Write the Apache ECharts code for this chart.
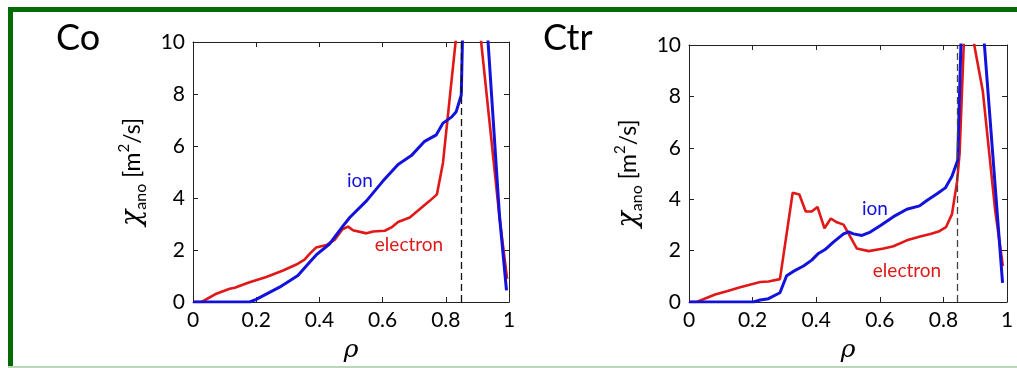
<!DOCTYPE html>
<html>
<head>
<meta charset="utf-8">
<script src="https://cdn.jsdelivr.net/npm/echarts@6/dist/echarts.min.js"></script>
<style>html,body{margin:0;padding:0;background:#fff}#c{width:1017px;height:368px}</style>
</head>
<body>
<div id="c"></div>
<script>
// ---- data (rho, chi_ano [m^2/s]) ----
var panelTitles = ['Co', 'Ctr'];
var xTicks = [0, 0.2, 0.4, 0.6, 0.8, 1];
var yTicks = [0, 2, 4, 6, 8, 10];
var coIon = [[0,0],[0.18,0],[0.2,0.1],[0.274,0.57],[0.332,1.02],[0.369,1.53],[0.39,1.81],[0.432,2.23],[0.475,2.93],[0.496,3.25],[0.549,3.89],[0.601,4.65],[0.649,5.29],[0.691,5.63],[0.733,6.18],[0.77,6.43],[0.791,6.88],[0.818,7.11],[0.833,7.32],[0.849,7.96],[0.856,12],[0.87,20],[0.9,18],[0.93,10.7],[0.97,3.3],[0.992,0.45]];
var coElectron = [[0,0],[0.027,0],[0.074,0.32],[0.116,0.51],[0.132,0.55],[0.179,0.76],[0.232,0.96],[0.285,1.21],[0.327,1.44],[0.353,1.63],[0.369,1.85],[0.39,2.10],[0.422,2.19],[0.448,2.39],[0.473,2.80],[0.491,2.90],[0.506,2.76],[0.549,2.64],[0.57,2.71],[0.607,2.74],[0.628,2.87],[0.649,3.08],[0.686,3.25],[0.717,3.57],[0.749,3.89],[0.772,4.14],[0.791,5.35],[0.835,10.47],[0.87,16],[0.9,13],[0.905,10.8],[0.97,3.25],[0.994,0.89]];
var ctrIon = [[0,0],[0.203,0],[0.224,0.08],[0.25,0.13],[0.286,0.36],[0.307,1.02],[0.328,1.19],[0.36,1.40],[0.386,1.63],[0.407,1.89],[0.428,2.04],[0.454,2.33],[0.486,2.65],[0.502,2.73],[0.517,2.65],[0.544,2.59],[0.57,2.72],[0.601,2.97],[0.643,3.32],[0.685,3.61],[0.725,3.74],[0.748,3.95],[0.78,4.21],[0.806,4.44],[0.827,4.89],[0.845,5.52],[0.86,12.24],[0.9,18],[0.925,10.65],[0.986,0.74]];
var ctrElectron = [[0,0],[0.024,0],[0.082,0.29],[0.119,0.42],[0.161,0.57],[0.203,0.71],[0.224,0.78],[0.25,0.80],[0.286,0.89],[0.326,4.25],[0.347,4.18],[0.367,3.52],[0.386,3.52],[0.404,3.70],[0.426,2.87],[0.446,3.25],[0.465,3.10],[0.486,3.01],[0.528,2.08],[0.565,1.98],[0.612,2.08],[0.643,2.17],[0.685,2.40],[0.727,2.55],[0.759,2.65],[0.785,2.74],[0.808,2.91],[0.827,3.42],[0.843,4.69],[0.851,5.78],[0.864,10],[0.875,14],[0.89,13],[0.897,10],[0.924,8.2],[0.963,3.55],[0.987,1.40]];
var separatrix = [0.85, 0.845];

var FONT = 'Lato';
var BLUE = '#1212dc';
var RED = '#e01818';

var grids = [
  {left: 193, top: 42, width: 316, height: 261},
  {left: 689, top: 45, width: 318, height: 261}
];

var xAxes = [], yAxes = [], series = [];
grids.forEach(function (g, i) {
  var tickCommon = {show: true, inside: true, length: 5, lineStyle: {color: '#222', width: 1}};
  xAxes.push({
    gridIndex: i, type: 'value', min: xTicks[0], max: xTicks[xTicks.length - 1], interval: 0.2,
    axisLine: {show: true, onZero: false, lineStyle: {color: '#222', width: 1}},
    axisTick: tickCommon, splitLine: {show: false},
    axisLabel: {color: '#000', fontFamily: FONT, fontSize: 21, margin: 8},
    name: 'ρ', nameLocation: 'middle', nameGap: 36,
    nameTextStyle: {color: '#000', fontFamily: 'DejaVu Serif', fontStyle: 'italic', fontSize: 25}
  });
  xAxes.push({
    gridIndex: i, type: 'value', position: 'top', min: 0, max: 1, interval: 0.2,
    axisLine: {show: true, onZero: false, lineStyle: {color: '#222', width: 1}},
    axisTick: tickCommon, axisLabel: {show: false}, splitLine: {show: false}
  });
  yAxes.push({
    gridIndex: i, type: 'value', min: yTicks[0], max: yTicks[yTicks.length - 1], interval: 2,
    axisLine: {show: true, onZero: false, lineStyle: {color: '#222', width: 1}},
    axisTick: tickCommon, splitLine: {show: false},
    axisLabel: {color: '#000', fontFamily: FONT, fontSize: 21, margin: 8},
    name: '{chi|χ}{sub|ano} [m{sup|2}/s]', nameLocation: 'middle', nameRotate: 90, nameGap: 44,
    nameTextStyle: {
      color: '#000', fontFamily: FONT, fontSize: 23, lineHeight: 32,
      rich: {
        chi: {fontFamily: 'DejaVu Serif', fontStyle: 'italic', fontSize: 27, color: '#000', lineHeight: 32},
        sub: {fontFamily: FONT, fontSize: 16, color: '#000', verticalAlign: 'bottom', lineHeight: 32},
        sup: {fontFamily: FONT, fontSize: 15, color: '#000', verticalAlign: 'top', lineHeight: 32}
      }
    }
  });
  yAxes.push({
    gridIndex: i, type: 'value', position: 'right', min: 0, max: 10, interval: 2,
    axisLine: {show: true, onZero: false, lineStyle: {color: '#222', width: 1}},
    axisTick: tickCommon, axisLabel: {show: false}, splitLine: {show: false}
  });
});

var panels = [[coIon, coElectron], [ctrIon, ctrElectron]];
panels.forEach(function (p, i) {
  series.push({
    type: 'line', xAxisIndex: 2 * i, yAxisIndex: 2 * i, data: p[1], showSymbol: false, symbol: 'none',
    lineStyle: {color: RED, width: 2.6}, clip: true, z: 3, silent: true,
    markLine: {
      silent: true, symbol: 'none', animation: false, label: {show: false},
      lineStyle: {color: i === 0 ? '#111' : '#444', width: 1.3, type: [7, 4]},
      data: [[{coord: [separatrix[i], 0]}, {coord: [separatrix[i], 10]}]]
    }
  });
  series.push({
    type: 'line', xAxisIndex: 2 * i, yAxisIndex: 2 * i, data: p[0], showSymbol: false, symbol: 'none',
    lineStyle: {color: BLUE, width: 3}, clip: true, z: 4, silent: true
  });
});

var chart = echarts.init(document.getElementById('c'), null, {renderer: 'canvas'});
chart.setOption({
  backgroundColor: '#fff',
  animation: false,
  grid: grids,
  xAxis: xAxes,
  yAxis: yAxes,
  series: series,
  graphic: [
    {type: 'rect', shape: {x: 8, y: 7, width: 1009, height: 5}, style: {fill: '#046a04'}, silent: true},
    {type: 'rect', shape: {x: 8, y: 7, width: 5, height: 361}, style: {fill: '#046a04'}, silent: true},
    {type: 'rect', shape: {x: 8, y: 366, width: 1009, height: 2}, style: {fill: '#bcd6bc'}, silent: true},
    {type: 'text', style: {x: 56, y: 38, text: panelTitles[0], font: '36px Lato', fill: '#000', verticalAlign: 'middle'}, silent: true},
    {type: 'text', style: {x: 543, y: 38, text: panelTitles[1], font: '36px Lato', fill: '#000', verticalAlign: 'middle'}, silent: true},
    {type: 'text', style: {x: 360, y: 181, text: 'ion', font: '19px Lato', fill: BLUE, align: 'center', verticalAlign: 'middle'}, silent: true},
    {type: 'text', style: {x: 409, y: 245, text: 'electron', font: '19px Lato', fill: RED, align: 'center', verticalAlign: 'middle'}, silent: true},
    {type: 'text', style: {x: 875, y: 209, text: 'ion', font: '19px Lato', fill: BLUE, align: 'center', verticalAlign: 'middle'}, silent: true},
    {type: 'text', style: {x: 907, y: 271, text: 'electron', font: '19px Lato', fill: RED, align: 'center', verticalAlign: 'middle'}, silent: true}
  ]
});
</script>
</body>
</html>
